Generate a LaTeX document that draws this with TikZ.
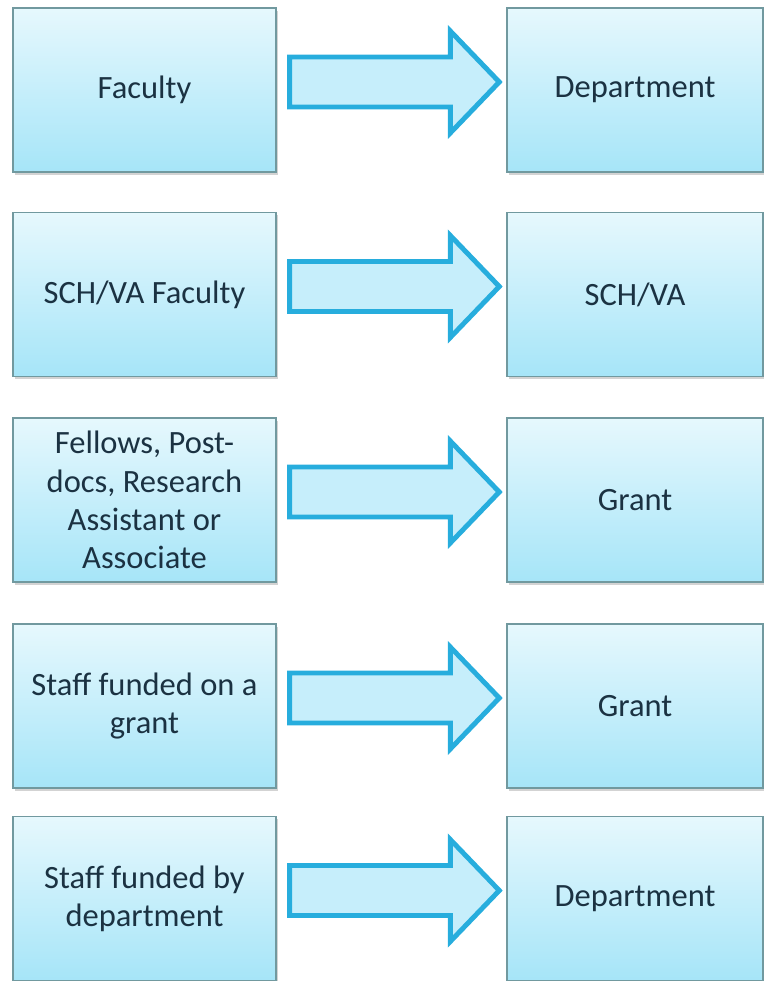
\documentclass[tikz,border=0pt]{standalone}
\usepackage{fontspec}
\setmainfont{Carlito}
\usetikzlibrary{calc,shadows}

\definecolor{boxtop}{HTML}{E6F8FD}
\definecolor{boxbottom}{HTML}{A6E5F8}
\definecolor{boxedge}{HTML}{71999F}
\definecolor{arrowfill}{HTML}{C6EEFB}
\definecolor{arrowedge}{HTML}{27ADDD}
\definecolor{labeltext}{HTML}{1B3242}

\tikzset{
  rolebox/.style={rectangle, draw=boxedge, line width=0.8pt,
    top color=boxtop, bottom color=boxbottom,
    drop shadow={shadow xshift=0.04cm, shadow yshift=-0.05cm, opacity=0.35},
    minimum height=3.28cm, align=center, text=labeltext,
    font=\fontsize{18.5}{21.8}\selectfont},
  leftbox/.style={rolebox, minimum width=5.26cm},
  rightbox/.style={rolebox, minimum width=5.12cm},
  blockarrow/.style={draw=arrowedge, fill=arrowfill, line width=2.8pt,
    line join=miter}
}

\begin{document}
\begin{tikzpicture}
  \useasboundingbox (0, 0) rectangle (15.28, -19.62);

% who is paid
\node [leftbox] (l1) at (2.89, -1.80)  {Faculty};
\node [leftbox] (l2) at (2.89, -5.89)  {SCH/VA Faculty};
\node [leftbox] (l3) at (2.89, -10.00) {Fellows, Post-\\docs, Research\\Assistant or\\Associate};
\node [leftbox] (l4) at (2.89, -14.12) {Staff funded on a\\grant};
\node [leftbox] (l5) at (2.89, -17.97) {Staff funded by\\department};

% who pays
\node [rightbox] (r1) at (12.70, -1.80)  {Department};
\node [rightbox] (r2) at (12.70, -5.89)  {SCH/VA};
\node [rightbox] (r3) at (12.70, -10.00) {Grant};
\node [rightbox] (r4) at (12.70, -14.12) {Grant};
\node [rightbox] (r5) at (12.70, -17.97) {Department};

\foreach \i in {1,...,5} {
  \coordinate (a\i) at ($(l\i.east)+(0.26,0.16)$);
  \coordinate (b\i) at ($(r\i.west)+(-0.14,0.16)$);
  \draw [blockarrow]
    ($(a\i)+(0,0.5)$) -- ($(b\i)+(-0.98,0.5)$) -- ($(b\i)+(-0.98,1.02)$)
    -- (b\i) -- ($(b\i)+(-0.98,-1.02)$) -- ($(b\i)+(-0.98,-0.5)$)
    -- ($(a\i)+(0,-0.5)$) -- cycle;
}
\end{tikzpicture}
\end{document}
